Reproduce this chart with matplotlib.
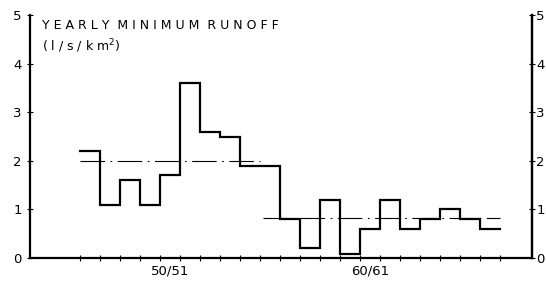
import numpy as np
import matplotlib
matplotlib.use('Agg')
import matplotlib.pyplot as plt

# hydrological years 46/47 .. 66/67, given by start year
years = [1946, 1947, 1948, 1949, 1950, 1951, 1952, 1953, 1954, 1955,
         1956, 1957, 1958, 1959, 1960, 1961, 1962, 1963, 1964, 1965, 1966]
runoff = [2.2, 1.1, 1.6, 1.1, 1.7, 3.6, 2.6, 2.5, 1.9, 1.9,
          0.8, 0.2, 1.2, 0.08, 0.6, 1.2, 0.6, 0.8, 1.0, 0.8, 0.6]

# period means (dash-dot lines)
mean_periods = [(1946, 1955), (1955.15, 1967)]
mean_values = [2.0, 0.82]

xtick_pos = [1950.5, 1960.5]
xtick_labels = ['50/51', '60/61']
yticks = [0, 1, 2, 3, 4, 5]

plt.rcParams['font.family'] = 'DejaVu Sans'
fig = plt.figure(figsize=(5.46, 2.88), dpi=100)
ax = fig.add_axes([30/546, 30/288, 502/546, 243/288])

# step line
xs = years + [years[-1] + 1]
ys = runoff + [runoff[-1]]
ax.step(xs, ys, where='post', color='black', lw=1.6, solid_joinstyle='miter')

for (x0, x1), m in zip(mean_periods, mean_values):
    ax.plot([x0, x1], [m, m], color='black', lw=0.8,
            linestyle=(0, (22, 5, 1.5, 5)))

ax.set_xlim(1943.5, 1968.6)
ax.set_ylim(0, 5)

for s in ['left', 'right', 'bottom']:
    ax.spines[s].set_linewidth(1.6)
ax.spines['top'].set_visible(False)

# minor ticks at year boundaries, labels at interval centres
ax.set_xticks(np.arange(1946, 1968), minor=True)
ax.set_xticks(xtick_pos)
ax.set_xticklabels(xtick_labels, fontsize=9.5)
ax.tick_params(axis='x', which='major', length=0, pad=5)
ax.tick_params(axis='x', which='minor', direction='inout', length=4, width=0.8)

ax.set_yticks(yticks)
ax.set_yticklabels([str(v) for v in yticks], fontsize=9.5)
ax.tick_params(axis='y', direction='inout', length=5, width=0.8, pad=3.5,
               left=True, right=False)

# right-hand scale, sits close to the edge
sec = ax.secondary_yaxis('right')
sec.set_yticks(yticks)
sec.set_yticklabels([str(v) for v in yticks], fontsize=9.5)
sec.spines['right'].set_linewidth(1.6)
sec.tick_params(axis='y', direction='inout', length=5, width=0.8, pad=0.5)

ax.text(1944.1, 4.79, 'Y E A R L Y  M I N I M U M  R U N O F F', fontsize=9,
        va='center', ha='left')
ax.text(1944.1, 4.36, '( l / s / k m$^{2}$)', fontsize=9, va='center', ha='left')

fig.savefig('out.png', dpi=100)
